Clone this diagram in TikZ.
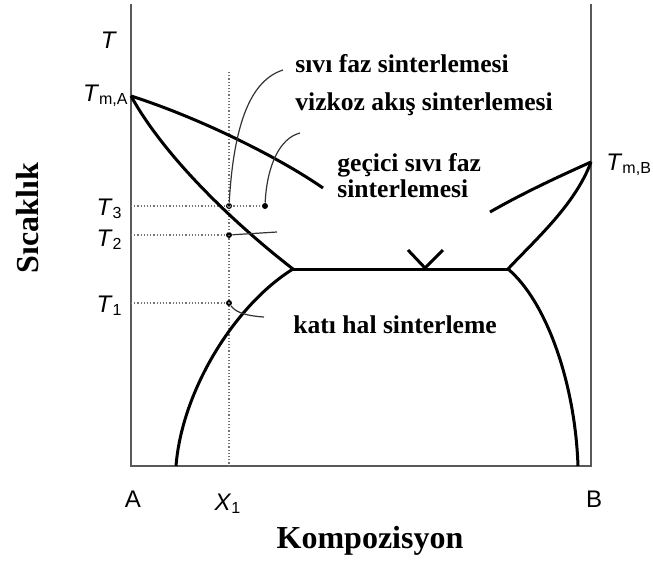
\documentclass[tikz,border=0pt]{standalone}
\usepackage{fontspec}
\setmainfont{Liberation Serif}
\setsansfont{Liberation Sans}
\usetikzlibrary{positioning, calc}
\newcommand{\Tlab}[1]{\textit{T}\textsubscript{#1}}
\tikzset{
  axisline/.style={draw=black!65, line width=1pt},
  phase/.style={draw=black, line width=1.5pt},
  guide/.style={draw=black!55, line width=0.6pt, densely dotted},
  leader/.style={draw=black!80, line width=0.6pt},
  dot/.style={circle, fill=black, inner sep=0pt, minimum size=3pt},
  regionlabel/.style={
    font=\fontsize{12.8}{13}\selectfont\bfseries,
    anchor=base west, inner sep=0pt, align=left,
  },
  axistitle/.style={font=\fontsize{16}{18}\selectfont\bfseries, inner sep=0pt},
  ticklabel/.style={font=\sffamily\fontsize{12}{14}\selectfont, inner sep=0pt},
}

\begin{document}
\begin{tikzpicture}[x=0.5pt, y=-0.5pt]
  \useasboundingbox (0,0) rectangle (653,563);

  % frame
  \coordinate (A top) at (131,4);
  \coordinate (A bot) at (131,466);
  \coordinate (B top) at (591,4);
  \coordinate (B bot) at (591,466);
  \draw[axisline] (A top) -- (A bot) -- (B bot) -- (B top);

  % key points of the diagram
  \coordinate (TmA) at (131,96);
  \coordinate (TmB) at (591,162);
  \coordinate (eutL) at (293,269);
  \coordinate (eutR) at (508,269);
  \coordinate (liqL end) at (323,188);
  \coordinate (liqR start) at (490,212);
  \coordinate (solL end) at (176,466);
  \coordinate (solR end) at (578,466);

  % composition X1 and temperatures
  \coordinate (X1 top) at (229,72);
  \coordinate (X1 bot) at (229,466);
  \node[dot] (p3) at (229,206) {};
  \node[dot] (q3) at (265,206) {};
  \node[dot] (p2) at (229,235) {};
  \node[dot] (p1) at (229,303) {};
  \coordinate (a3) at (131,206);
  \coordinate (a2) at (131,235);
  \coordinate (a1) at (131,303);

  \draw[guide] (X1 top) -- (X1 bot);
  \draw[guide] (a3) -- (q3);
  \draw[guide] (a2) -- (p2);
  \draw[guide] (a1) -- (p1);

  % phase boundaries
  \draw[phase] (TmA) .. controls (200,118) and (280,158) .. (liqL end);
  \draw[phase] (liqR start) .. controls (525,192) and (560,176) .. (TmB);
  \draw[phase] (TmA) .. controls (168,163) and (245,232) .. (eutL);
  \draw[phase] (eutR) .. controls (535,240) and (575,205) .. (TmB);
  \draw[phase] (eutL) -- (eutR);
  \draw[phase] (eutL) .. controls (235,305) and (182,390) .. (solL end);
  \draw[phase] (eutR) .. controls (545,300) and (575,380) .. (solR end);
  \draw[phase] (408,250) -- (425,268) -- (443,250);

  % labels
  \node[regionlabel] (sivi) at (295,72) {sıvı faz sinterlemesi};
  \node[regionlabel] (vizkoz) at (295,110) {vizkoz akış sinterlemesi};
  \node[regionlabel] (gecici) at (337,197) {geçici sıvı faz\\sinterlemesi};
  \node[regionlabel] (kati) at (293,333) {katı hal sinterleme};

  \coordinate (sivi end) at (283,70);
  \coordinate (vizkoz end) at (300,133);
  \coordinate (T2 end) at (277,232);
  \coordinate (T1 end) at (264,317);
  \draw[leader] (p3) .. controls (234,120) and (252,80) .. (sivi end);
  \draw[leader] (q3) .. controls (267,165) and (280,138) .. (vizkoz end);
  \draw[leader] (p2) -- (T2 end);
  \draw[leader] (p1) .. controls (236,313) and (248,316) .. (T1 end);

  % axis labels
  \node[ticklabel, anchor=base] (Tax) at (109,48) {\textit{T}};
  \node[ticklabel, anchor=base east] (lTmA) at (129,101) {\Tlab{m,A}};
  \node[ticklabel, anchor=base west] (lTmB) at (606,170) {\Tlab{m,B}};
  \node[ticklabel, anchor=base east] (lT3) at (123,215) {\Tlab{3}};
  \node[ticklabel, anchor=base east] (lT2) at (123,246) {\Tlab{2}};
  \node[ticklabel, anchor=base east] (lT1) at (123,312) {\Tlab{1}};
  \node[ticklabel, anchor=base] (lA) at (133,507) {A};
  \node[ticklabel, anchor=base] (lX1) at (228,510) {\textit{X}\textsubscript{1}};
  \node[ticklabel, anchor=base] (lB) at (594,507) {B};

  \node[axistitle, rotate=90] (ylab) at (28,218) {Sıcaklık};
  \node[axistitle, anchor=base] (xlab) at (370,548) {Kompozisyon};

\end{tikzpicture}
\end{document}
